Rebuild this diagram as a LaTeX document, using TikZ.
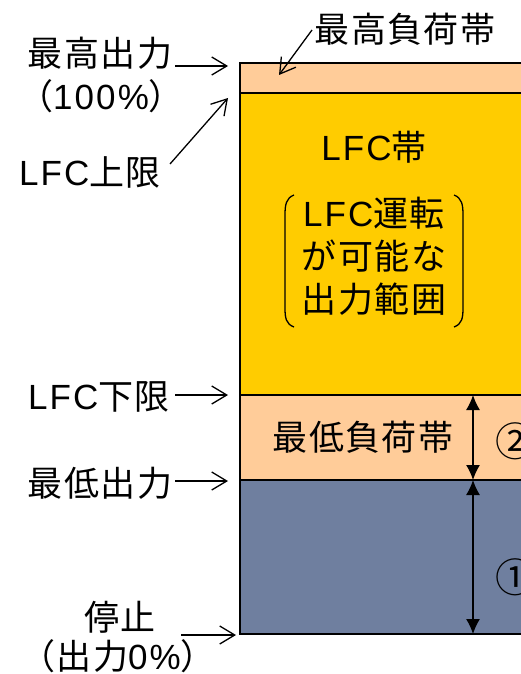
\documentclass[tikz,border=0pt]{standalone}
\usepackage{fontspec}
\setmainfont{Noto Sans CJK JP}[LetterSpace=4]
\newfontfamily\lat{Liberation Sans}[LetterSpace=6]
\usetikzlibrary{arrows.meta}
\definecolor{peach}{HTML}{FFCC99}
\definecolor{gold}{HTML}{FFCC00}
\definecolor{slate}{HTML}{6F7F9F}
\tikzset{
  lbl/.style={inner sep=0pt, font=\fontsize{35}{42}\selectfont},
  circnum/.style={inner sep=0pt, font=\fontsize{40}{48}\selectfont},
  lblarrow/.style={-{Straight Barb[length=15pt,width=18pt]}, line width=1.3pt},
  dimarrow/.style={{Latex[length=15pt,width=14pt]}-{Latex[length=15pt,width=14pt]}, line width=1.3pt},
  band/.style={draw=black, line width=1.3pt}
}
\begin{document}
\begin{tikzpicture}[x=1pt,y=-1pt]
\useasboundingbox (0,0) rectangle (521,674);
\clip (0,0) rectangle (521,674);
% bands
\fill[peach] (240,63) rectangle (540,93);
\fill[gold] (240,93) rectangle (540,395);
\fill[peach] (240,395) rectangle (540,480);
\fill[slate] (240,480) rectangle (540,634);
\draw[band] (540,63) -- (240,63) -- (240,634) -- (540,634);
\draw[band] (240,93) -- (540,93);
\draw[band] (240,395) -- (540,395);
\draw[band] (240,480) -- (540,480);
% coordinates
\coordinate (top) at (228,66);
\coordinate (lfcup) at (228,98);
\coordinate (lfclow) at (228,395);
\coordinate (minout) at (228,481);
\coordinate (stop) at (236,635);
\coordinate (topband) at (279,75);
\coordinate (s1) at (175,66);
\coordinate (s2) at (170,164);
\coordinate (s3) at (312,30);
\coordinate (s4) at (175,395);
\coordinate (s5) at (175,481);
\coordinate (s6) at (181,635);
\coordinate (d1) at (473,395);
\coordinate (d2) at (473,480);
\coordinate (d3) at (473,634);
% labels
\node[lbl] (maxout) at (100,53) {最高出力};
\node[lbl] (pct100) at (101,96) {（{\lat 100\%}）};
\node[lbl] (maxband) at (405,29) {最高負荷帯};
\node[lbl] (lfcu) at (90,172) {{\lat LFC}上限};
\node[lbl] (lfcl) at (99,397) {{\lat LFC}下限};
\node[lbl] (minl) at (100,483) {最低出力};
\node[lbl] (stopl) at (120,617) {停止};
\node[lbl] (pct0) at (118,656) {（出力{\lat 0\%}）};
\node[lbl] (lfcband) at (374,147) {{\lat LFC}帯};
\node[lbl] (l1) at (374,213) {{\lat LFC}運転};
\node[lbl] (l2) at (374,256) {が可能な};
\node[lbl] (l3) at (374,299) {出力範囲};
\node[lbl] (minband) at (363,437) {最低負荷帯};
\node[circnum] (c2) at (515,441) {②};
\node[circnum] (c1) at (515,577) {①};
% brackets
\draw[line width=1.3pt] (294,195) .. controls (286,198) and (285,205) .. (285,215) -- (285,308) .. controls (285,318) and (286,324) .. (294,327);
\draw[line width=1.3pt] (454,195) .. controls (462,198) and (463,205) .. (463,215) -- (463,308) .. controls (463,318) and (462,324) .. (454,327);
% label arrows
\draw[lblarrow] (s1) -- (top);
\draw[lblarrow] (s2) -- (lfcup);
\draw[lblarrow] (s3) -- (topband);
\draw[lblarrow] (s4) -- (lfclow);
\draw[lblarrow] (s5) -- (minout);
\draw[lblarrow] (s6) -- (stop);
% dimension arrows
\draw[dimarrow] (d1) -- (d2);
\draw[dimarrow] (d2) -- (d3);
\end{tikzpicture}
\end{document}
